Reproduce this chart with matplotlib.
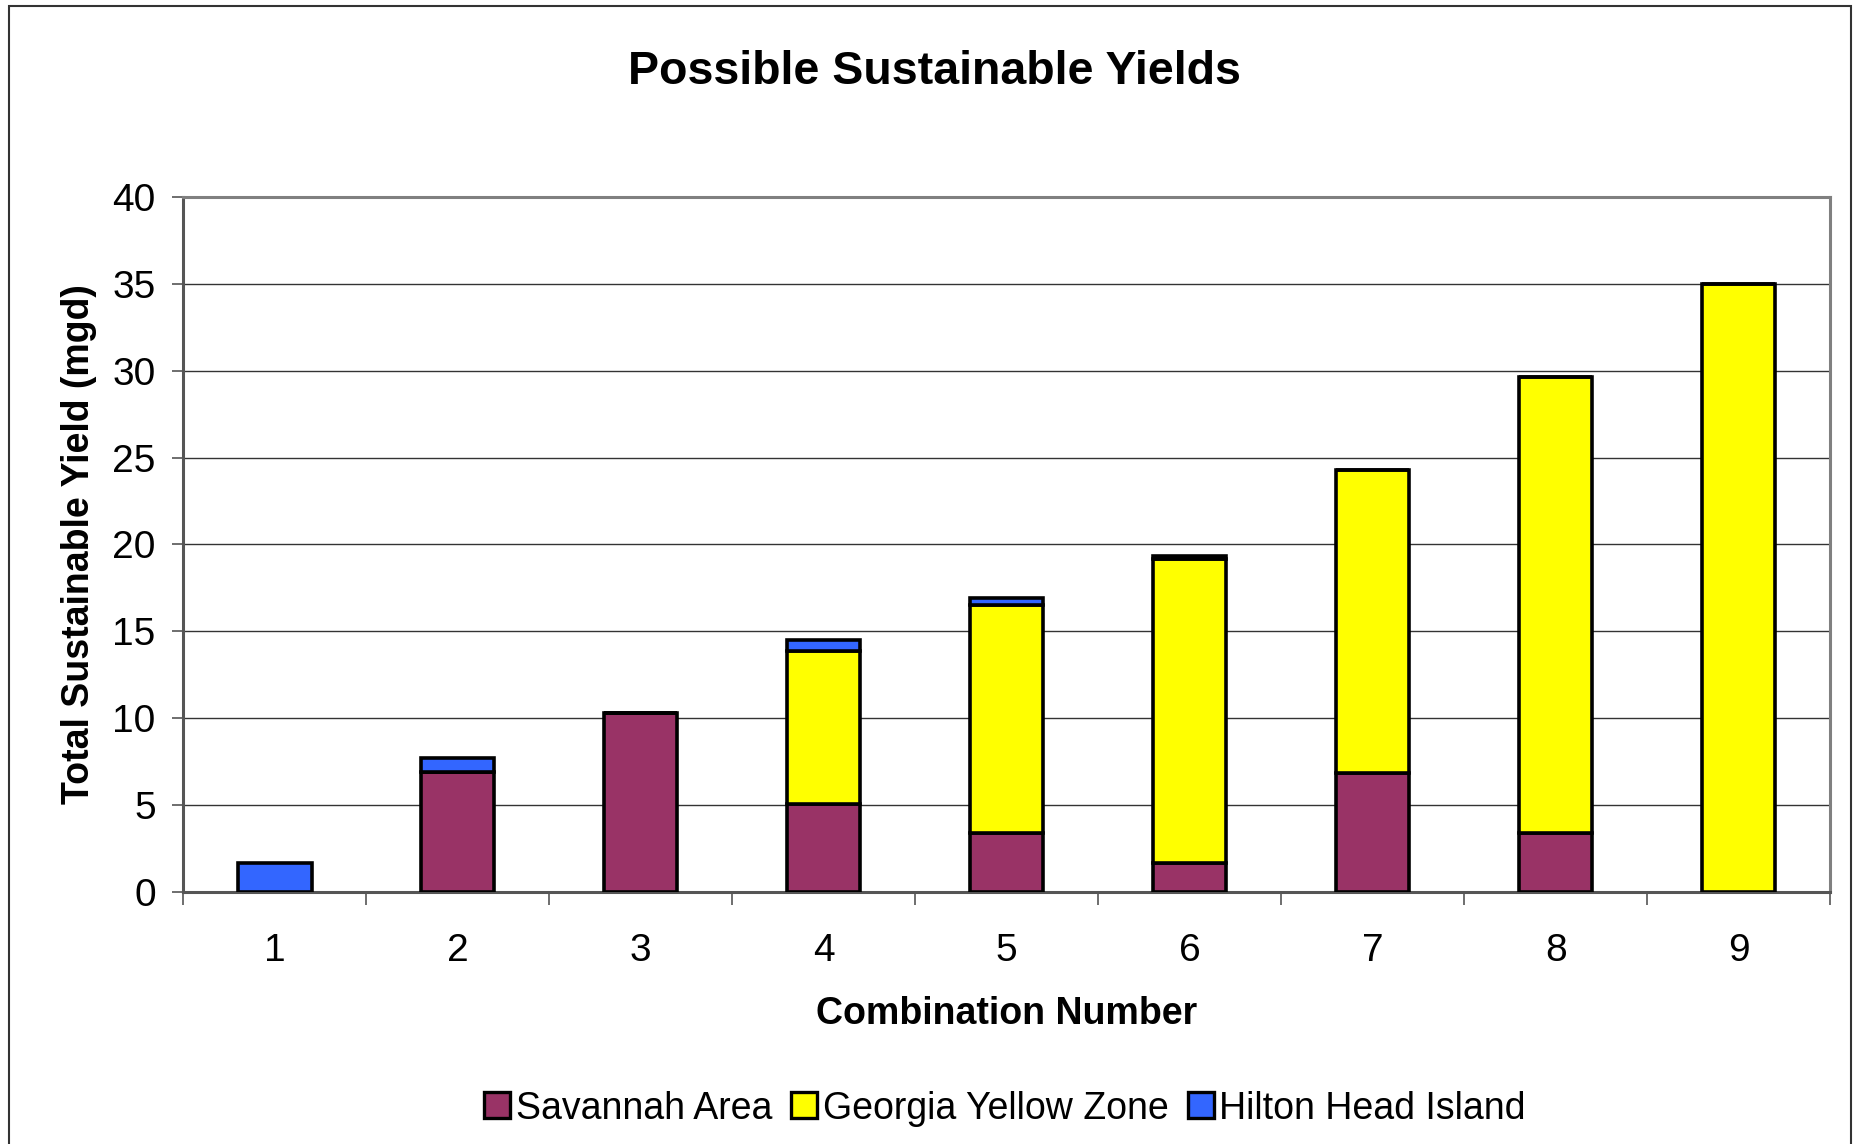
import numpy as np
import matplotlib.pyplot as plt
import matplotlib.patches as patches
from matplotlib.lines import Line2D

plt.rcParams['font.family'] = ['Liberation Sans', 'DejaVu Sans']

# data (mgd)
combos = [1, 2, 3, 4, 5, 6, 7, 8, 9]
savannah = [0, 6.9, 10.3, 5.1, 3.4, 1.7, 6.85, 3.4, 0]
yellow_zone = [0, 0, 0, 8.75, 13.1, 17.45, 17.45, 26.25, 35.0]
hilton_head = [1.7, 0.85, 0, 0.65, 0.45, 0.2, 0, 0, 0]

series_names = ['Savannah Area', 'Georgia Yellow Zone', 'Hilton Head Island']
series_colors = ['#993366', '#FFFF00', '#3366FF']

fig = plt.figure(figsize=(18.68, 11.44), dpi=100)
ax = fig.add_axes([0.0982, 0.22, 0.9797 - 0.0982, 0.8281 - 0.22])

# outer chart frame
fig.patches.append(patches.Rectangle((0.005, -0.05), 0.986, 1.045, transform=fig.transFigure,
                                     fill=False, edgecolor='#333333', linewidth=1.5))

x = np.array(combos)
bottom = np.zeros(len(combos))
for vals, c in zip([savannah, yellow_zone, hilton_head], series_colors):
    vals = np.array(vals)
    ax.bar(x, vals, width=0.4, bottom=bottom, color=c, edgecolor='black', linewidth=2.6, zorder=3)
    bottom += vals

ax.set_xlim(0.5, 9.5)
ax.set_ylim(0, 40)
ax.set_yticks(range(0, 41, 5))
ax.set_xticks(combos)
ax.set_xticks(np.arange(0.5, 9.6, 1), minor=True)
ax.tick_params(axis='x', which='major', length=0, labelsize=28, pad=29)
ax.tick_params(axis='x', which='minor', length=9, width=1.2, color='#555555', direction='out')
ax.tick_params(axis='y', length=8, width=1.2, color='#555555', labelsize=28, pad=12)

ax.yaxis.grid(True, color='#333333', linewidth=1.0, zorder=0)
ax.set_axisbelow(True)
for s in ax.spines.values():
    s.set_color('#808080')
    s.set_linewidth(2.2)
ax.spines['left'].set_color('#555555')
ax.spines['bottom'].set_color('#555555')

ax.set_xlabel('Combination Number', fontsize=27, fontweight='bold', labelpad=20)
ax.set_ylabel('Total Sustainable Yield (mgd)', fontsize=27, fontweight='bold', labelpad=11)
fig.text(0.5, 0.937, 'Possible Sustainable Yields', ha='center', va='center',
         fontsize=33.5, fontweight='bold')

handles = [Line2D([], [], marker='s', linestyle='none', markersize=19, markerfacecolor=c,
                  markeredgecolor='black', markeredgewidth=2.4) for c in series_colors]
fig.legend(handles, series_names, loc='center', bbox_to_anchor=(0.538, 0.031), ncol=3,
           frameon=False, fontsize=27, handlelength=0.7, handletextpad=0.15,
           columnspacing=0.5)

fig.savefig('out.png', dpi=100)
